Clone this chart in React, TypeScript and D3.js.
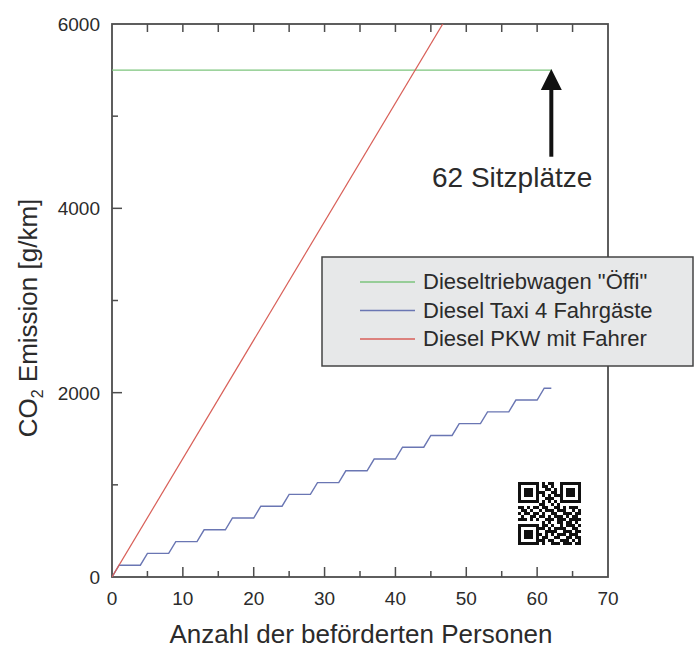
import { useEffect, useRef } from "react";
import * as d3 from "d3";

// values
const xTicks = [0, 10, 20, 30, 40, 50, 60, 70];
const yTicks = [0, 2000, 4000, 6000];

const greenX = [0, 62];
const greenY = [5500, 5500];

const blueX = [0, 1, 4, 5, 8, 9, 12, 13, 16, 17, 20, 21, 24, 25, 28, 29, 32, 33, 36, 37, 40, 41, 44, 45, 48, 49, 52, 53, 56, 57, 60, 61, 62];
const blueY = [0, 128, 128, 256, 256, 384, 384, 512, 512, 640, 640, 768, 768, 896, 896, 1024, 1024, 1152, 1152, 1280, 1280, 1408, 1408, 1536, 1536, 1664, 1664, 1792, 1792, 1920, 1920, 2048, 2048];

const redX = [0, 62];
const redY = [0, 7970];

const seriesNames = ['Dieseltriebwagen "Öffi"', "Diesel Taxi 4 Fahrgäste", "Diesel PKW mit Fahrer"];
const seriesColors = ["#7cc57c", "#6a76b3", "#d85f58"];

const arrowX = 62;
const arrowTop = 5500;
const arrowBottom = 4560;
const noteText = "62 Sitzplätze";

const qr = [
  "111111101011001111111",
  "100000101101001000001",
  "101110100110101011101",
  "101110111001101011101",
  "101110101010111011101",
  "100000100111001000001",
  "111111101010101111111",
  "000000011001010000000",
  "110101101100110101110",
  "011010010111011100101",
  "101101101001100111011",
  "010011011010111010110",
  "111010100111011101111",
  "000000001010011011010",
  "111111101101001011101",
  "100000111010111100110",
  "101110100111100111011",
  "101110110101011101110",
  "101110101100110011011",
  "100000111011001110101",
  "111111101001110111011",
];

const FONT = "'Liberation Sans', Arial, sans-serif";

export default function App() {
  const ref = useRef<SVGSVGElement>(null);

  useEffect(() => {
    const svg = d3.select(ref.current);
    svg.selectAll("*").remove();

    const width = 694;
    const height = 650;
    const margin = { top: 24, right: 86, bottom: 73, left: 112 };

    const x = d3.scaleLinear().domain([0, 70]).range([margin.left, width - margin.right]);
    const y = d3.scaleLinear().domain([0, 6000]).range([height - margin.bottom, margin.top]);

    const axisColor = "#4d4d4d";
    const textColor = "#2b2b2b";

    svg.append("rect").attr("width", width).attr("height", height).attr("fill", "#fff");

    svg
      .append("defs")
      .append("clipPath")
      .attr("id", "plot")
      .append("rect")
      .attr("x", x(0))
      .attr("y", y(6000))
      .attr("width", x(70) - x(0))
      .attr("height", y(0) - y(6000));

    // frame
    svg
      .append("rect")
      .attr("x", x(0))
      .attr("y", y(6000))
      .attr("width", x(70) - x(0))
      .attr("height", y(0) - y(6000))
      .attr("fill", "none")
      .attr("stroke", axisColor)
      .attr("stroke-width", 1.8);

    // bottom and top ticks
    const gx = svg.append("g");
    x.ticks(14).forEach((t) => {
      if (t === 0 || t === 70) return;
      const major = t % 10 === 0;
      gx.append("line")
        .attr("x1", x(t))
        .attr("x2", x(t))
        .attr("y1", y(0))
        .attr("y2", y(0) - (major ? 10 : 6))
        .attr("stroke", axisColor)
        .attr("stroke-width", 1.5);
      gx.append("line")
        .attr("x1", x(t))
        .attr("x2", x(t))
        .attr("y1", y(6000))
        .attr("y2", y(6000) + 8)
        .attr("stroke", axisColor)
        .attr("stroke-width", 1.5);
    });
    xTicks.forEach((t) => {
      gx.append("text")
        .attr("x", x(t))
        .attr("y", 605)
        .attr("text-anchor", "middle")
        .attr("font-family", FONT)
        .attr("font-size", 19)
        .attr("fill", textColor)
        .text(t);
    });

    // left ticks
    const gy = svg.append("g");
    y.ticks(6).forEach((t) => {
      if (t === 0 || t === 6000) return;
      const major = t % 2000 === 0;
      gy.append("line")
        .attr("x1", x(0))
        .attr("x2", x(0) + (major ? 10 : 6))
        .attr("y1", y(t))
        .attr("y2", y(t))
        .attr("stroke", axisColor)
        .attr("stroke-width", 1.5);
    });
    yTicks.forEach((t) => {
      gy.append("text")
        .attr("x", 100)
        .attr("y", y(t) + 7)
        .attr("text-anchor", "end")
        .attr("font-family", FONT)
        .attr("font-size", 19)
        .attr("fill", textColor)
        .text(t);
    });

    // series
    const line = d3
      .line<[number, number]>()
      .x((d) => x(d[0]))
      .y((d) => y(d[1]));

    const plot = svg.append("g").attr("clip-path", "url(#plot)");
    const series: [number, number][][] = [
      greenX.map((v, i) => [v, greenY[i]]),
      blueX.map((v, i) => [v, blueY[i]]),
      redX.map((v, i) => [v, redY[i]]),
    ];
    series.forEach((pts, i) => {
      plot
        .append("path")
        .datum(pts)
        .attr("fill", "none")
        .attr("stroke", seriesColors[i])
        .attr("stroke-width", i === 1 ? 1.4 : 1.2)
        .attr("d", line);
    });

    // arrow
    svg
      .append("line")
      .attr("x1", x(arrowX))
      .attr("x2", x(arrowX))
      .attr("y1", y(arrowBottom))
      .attr("y2", y(arrowTop) + 18)
      .attr("stroke", "#111")
      .attr("stroke-width", 4);
    svg
      .append("path")
      .attr(
        "d",
        `M${x(arrowX)},${y(arrowTop) - 1} L${x(arrowX) + 10.5},${y(arrowTop) + 20} L${x(arrowX) - 10.5},${y(arrowTop) + 20} Z`
      )
      .attr("fill", "#111");
    svg
      .append("text")
      .attr("x", 432)
      .attr("y", 187)
      .attr("font-family", FONT)
      .attr("font-size", 28)
      .attr("fill", textColor)
      .text(noteText);

    // QR code
    const cell = 3;
    const qg = svg.append("g").attr("transform", "translate(518,482)");
    qr.forEach((row, r) => {
      row.split("").forEach((c, k) => {
        if (c === "1")
          qg.append("rect")
            .attr("x", k * cell)
            .attr("y", r * cell)
            .attr("width", cell)
            .attr("height", cell)
            .attr("fill", "#111");
      });
    });

    // legend
    const lg = svg.append("g");
    lg.append("rect")
      .attr("x", 322)
      .attr("y", 257)
      .attr("width", 371)
      .attr("height", 109)
      .attr("fill", "#e7e8e9")
      .attr("stroke", "#444")
      .attr("stroke-width", 1.5);
    seriesNames.forEach((name, i) => {
      const cy = 282 + i * 28.5;
      lg.append("line")
        .attr("x1", 360)
        .attr("x2", 415)
        .attr("y1", cy)
        .attr("y2", cy)
        .attr("stroke", seriesColors[i])
        .attr("stroke-width", 1.4);
      lg.append("text")
        .attr("x", 423)
        .attr("y", cy + 7)
        .attr("font-family", FONT)
        .attr("font-size", 22)
        .attr("fill", textColor)
        .text(name);
    });

    // axis titles
    svg
      .append("text")
      .attr("x", 361)
      .attr("y", 643)
      .attr("text-anchor", "middle")
      .attr("font-family", FONT)
      .attr("font-size", 26)
      .attr("fill", textColor)
      .text("Anzahl der beförderten Personen");

    const yl = svg
      .append("text")
      .attr("transform", "translate(37,318) rotate(-90)")
      .attr("text-anchor", "middle")
      .attr("font-family", FONT)
      .attr("font-size", 26)
      .attr("fill", textColor);
    yl.append("tspan").text("CO");
    yl.append("tspan").attr("font-size", 16).attr("dy", 6).text("2");
    yl.append("tspan").attr("dy", -6).text(" Emission [g/km]");
  }, []);

  return (
    <svg
      ref={ref}
      width={694}
      height={650}
      style={{ position: "absolute", left: 0, top: 0, display: "block" }}
    />
  );
}
